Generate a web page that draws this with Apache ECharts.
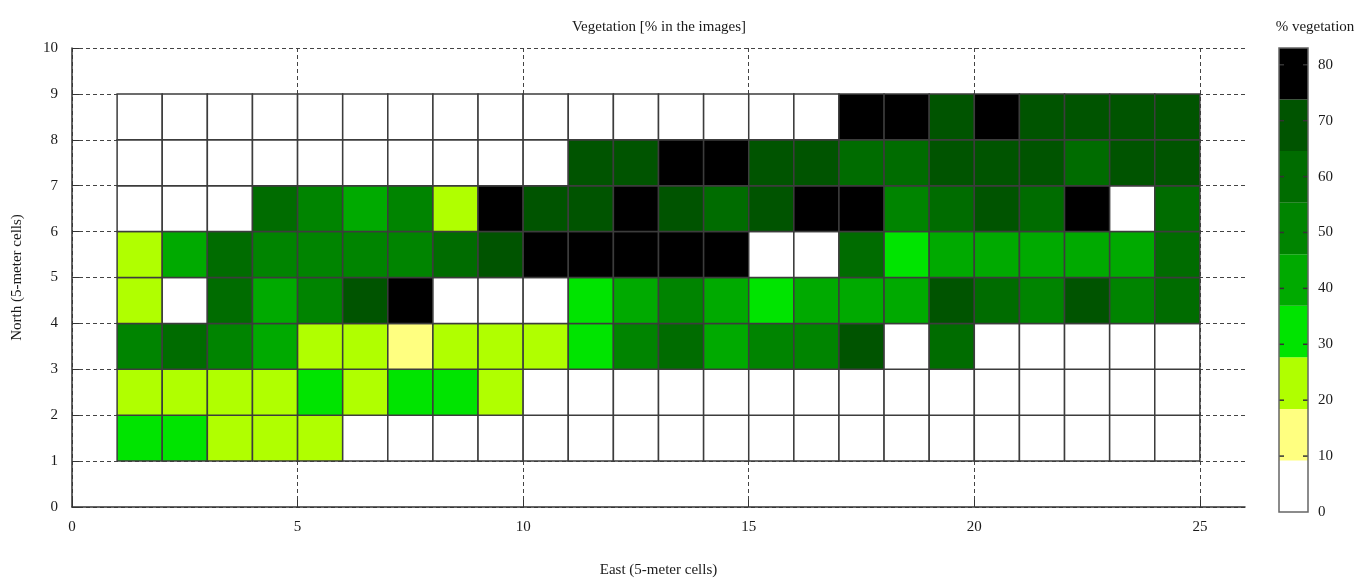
<!DOCTYPE html>
<html><head><meta charset="utf-8">
<script src="https://cdn.jsdelivr.net/npm/echarts@6/dist/echarts.min.js"></script>
<style>html,body{margin:0;padding:0;background:#fff}#c{width:1364px;height:583px}</style>
</head><body><div id="c"></div>
<script>
// East cell index (left edge of each 5-m cell) and North row index (bottom edge)
const eastCells = [1,2,3,4,5,6,7,8,9,10,11,12,13,14,15,16,17,18,19,20,21,22,23,24];
const northRows = [1,2,3,4,5,6,7,8];
// Vegetation percentage per row (columns east 1..24)
const veg_n1 = [32,32,23,23,23,0,0,0,0,0,0,0,0,0,0,0,0,0,0,0,0,0,0,0];
const veg_n2 = [23,23,23,23,32,23,32,32,23,0,0,0,0,0,0,0,0,0,0,0,0,0,0,0];
const veg_n3 = [50,60,50,41,23,23,14,23,23,23,32,50,60,41,50,50,69,0,60,0,0,0,0,0];
const veg_n4 = [23,0,60,41,50,69,78,0,0,0,32,41,50,41,32,41,41,41,69,60,50,69,50,60];
const veg_n5 = [23,41,60,50,50,50,50,60,69,78,78,78,78,78,0,0,60,32,41,41,41,41,41,60];
const veg_n6 = [0,0,0,60,50,41,50,23,78,69,69,78,69,60,69,78,78,50,60,69,60,78,0,60];
const veg_n7 = [0,0,0,0,0,0,0,0,0,0,69,69,78,78,69,69,60,60,69,69,69,60,69,69];
const veg_n8 = [0,0,0,0,0,0,0,0,0,0,0,0,0,0,0,0,78,78,69,78,69,69,69,69];
// Colour scale: band edges and tick labels
const bandEdges = [0, 9.22, 18.44, 27.67, 36.89, 46.11, 55.33, 64.56, 73.78, 83];
const colorTicks = [0,10,20,30,40,50,60,70,80];
const xTicks = [0,5,10,15,20,25];

const bandColors = ['#ffffff','#ffff80','#b0ff00','#00e400','#00aa00','#008400','#006c00','#005400','#000000'];
const vegRows = [veg_n1, veg_n2, veg_n3, veg_n4, veg_n5, veg_n6, veg_n7, veg_n8];

function colorFor(v){
  for (let i = 0; i < bandColors.length; i++) {
    if (v < bandEdges[i+1]) return bandColors[i];
  }
  return bandColors[bandColors.length-1];
}

const cellData = [];
northRows.forEach((n, ri) => {
  eastCells.forEach((e, ci) => {
    cellData.push([e, n, vegRows[ri][ci]]);
  });
});
const bandData = bandColors.map((c, i) => [bandEdges[i], bandEdges[i+1], i]);
const barFrame = [[bandEdges[0], bandEdges[bandEdges.length-1]]];
const tickData = colorTicks.filter(t => t > 0).map(t => [t]);

const font = 'Liberation Serif, Times New Roman, serif';
const txt = '#1a1a1a';
const gridDash = {color: '#444', width: 1, type: [4, 3]};

function rectFrom(api, x0, y0, x1, y1) {
  const p0 = api.coord([x0, y1]);
  const p1 = api.coord([x1, y0]);
  return {x: p0[0], y: p0[1], width: p1[0] - p0[0], height: p1[1] - p0[1]};
}

const chart = echarts.init(document.getElementById('c'), null, {renderer: 'canvas'});
chart.setOption({
  backgroundColor: '#fff',
  animation: false,
  title: [
    {text: 'Vegetation [% in the images]', left: 654, top: 15, textAlign: 'center',
     textStyle: {fontFamily: font, fontSize: 15, fontWeight: 'normal', color: txt}},
    {text: '% vegetation', left: 1310, top: 15, textAlign: 'center',
     textStyle: {fontFamily: font, fontSize: 15, fontWeight: 'normal', color: txt}}
  ],
  grid: [
    {left: 72, right: 119, top: 48, bottom: 73},
    {left: 1279, width: 29, top: 48, bottom: 71}
  ],
  xAxis: [
    {type: 'value', gridIndex: 0, min: 0, max: 26, interval: 5,
     name: 'East (5-meter cells)', nameLocation: 'middle', nameGap: 56,
     nameTextStyle: {fontFamily: font, fontSize: 15, color: txt},
     axisLine: {show: true, lineStyle: {color: '#333', width: 1.5}},
     axisTick: {show: true, inside: true, length: 7, lineStyle: {color: '#333'}},
     axisLabel: {fontFamily: font, fontSize: 15, color: txt, margin: 13, showMaxLabel: false},
     splitLine: {show: true, lineStyle: {color: ['#444','#444','#444','#444','#444','#444','rgba(0,0,0,0)'], width: 1, type: [4, 3]}}
    },
    {type: 'value', gridIndex: 1, min: 0, max: 1, show: false}
  ],
  yAxis: [
    {type: 'value', gridIndex: 0, min: 0, max: 10, interval: 1,
     name: 'North (5-meter cells)', nameLocation: 'middle', nameGap: 47, nameRotate: 90,
     nameTextStyle: {fontFamily: font, fontSize: 15, color: txt},
     axisLine: {show: true, lineStyle: {color: '#333', width: 1.5}},
     axisTick: {show: true, inside: true, length: 7, lineStyle: {color: '#333'}},
     axisLabel: {fontFamily: font, fontSize: 15, color: txt, margin: 14},
     splitLine: {show: true, lineStyle: gridDash}
    },
    {type: 'value', gridIndex: 1, min: 0, max: 83, interval: 10, position: 'right',
     axisLine: {show: false},
     axisTick: {show: false},
     axisLabel: {fontFamily: font, fontSize: 15, color: txt, margin: 10, showMaxLabel: false},
     splitLine: {show: false}
    }
  ],
  series: [
    {
      type: 'custom', xAxisIndex: 0, yAxisIndex: 0, data: cellData,
      encode: {x: 0, y: 1},
      renderItem: function (params, api) {
        const x = api.value(0), y = api.value(1), v = api.value(2);
        return {type: 'rect', shape: rectFrom(api, x, y, x + 1, y + 1),
          style: {fill: colorFor(v), stroke: '#3c3c3c', lineWidth: 1.5}};
      },
      z: 5
    },
    {
      type: 'custom', xAxisIndex: 1, yAxisIndex: 1, data: bandData,
      encode: {y: [0, 1]},
      renderItem: function (params, api) {
        const lo = api.value(0), hi = api.value(1), i = api.value(2);
        return {type: 'rect', shape: rectFrom(api, 0, lo, 1, hi),
          style: {fill: bandColors[i]}};
      },
      z: 1
    },
    {
      type: 'custom', xAxisIndex: 1, yAxisIndex: 1, data: tickData,
      encode: {y: 0},
      renderItem: function (params, api) {
        const t = api.value(0);
        const pl = api.coord([0, t]);
        const pr = api.coord([1, t]);
        return {type: 'group', children: [
          {type: 'line', shape: {x1: pl[0], y1: pl[1], x2: pl[0] + 5, y2: pl[1]},
           style: {stroke: '#333', lineWidth: 1.5}},
          {type: 'line', shape: {x1: pr[0] - 5, y1: pr[1], x2: pr[0], y2: pr[1]},
           style: {stroke: '#333', lineWidth: 1.5}}
        ]};
      },
      z: 2
    },
    {
      type: 'custom', xAxisIndex: 1, yAxisIndex: 1, data: barFrame,
      encode: {y: [0, 1]},
      renderItem: function (params, api) {
        const lo = api.value(0), hi = api.value(1);
        return {type: 'rect', shape: rectFrom(api, 0, lo, 1, hi),
          style: {fill: 'none', stroke: '#666', lineWidth: 1.5}};
      },
      z: 3
    }
  ]
});
</script>
</body></html>
